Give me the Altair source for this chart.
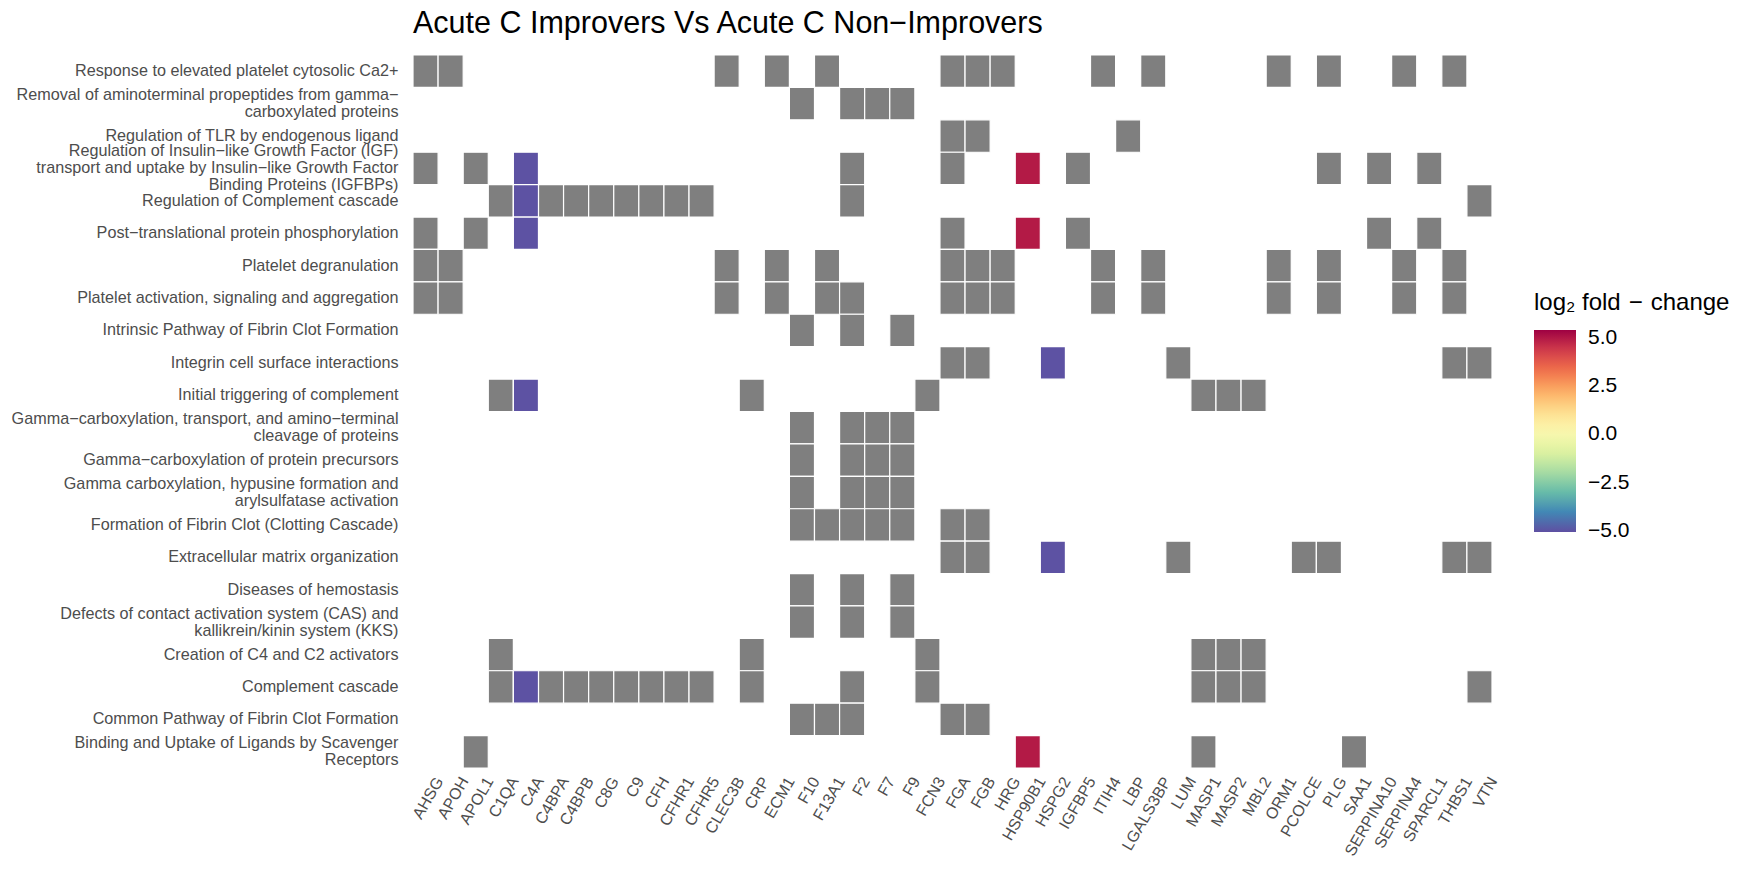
import altair as alt
import pandas as pd

genes = ["AHSG", "APOH", "APOL1", "C1QA", "C4A", "C4BPA", "C4BPB", "C8G", "C9", "CFH",
         "CFHR1", "CFHR5", "CLEC3B", "CRP", "ECM1", "F10", "F13A1", "F2", "F7", "F9",
         "FCN3", "FGA", "FGB", "HRG", "HSP90B1", "HSPG2", "IGFBP5", "ITIH4", "LBP",
         "LGALS3BP", "LUM", "MASP1", "MASP2", "MBL2", "ORM1", "PCOLCE", "PLG", "SAA1",
         "SERPINA10", "SERPINA4", "SPARCL1", "THBS1", "VTN"]

# top to bottom; "|" marks a line break in the label
pathways = [
    "Response to elevated platelet cytosolic Ca2+",
    "Removal of aminoterminal propeptides from gamma\u2212|carboxylated proteins",
    "Regulation of TLR by endogenous ligand",
    "Regulation of Insulin\u2212like Growth Factor (IGF)|transport and uptake by Insulin\u2212like Growth Factor|Binding Proteins (IGFBPs)",
    "Regulation of Complement cascade",
    "Post\u2212translational protein phosphorylation",
    "Platelet degranulation",
    "Platelet activation, signaling and aggregation",
    "Intrinsic Pathway of Fibrin Clot Formation",
    "Integrin cell surface interactions",
    "Initial triggering of complement",
    "Gamma\u2212carboxylation, transport, and amino\u2212terminal|cleavage of proteins",
    "Gamma\u2212carboxylation of protein precursors",
    "Gamma carboxylation, hypusine formation and|arylsulfatase activation",
    "Formation of Fibrin Clot (Clotting Cascade)",
    "Extracellular matrix organization",
    "Diseases of hemostasis",
    "Defects of contact activation system (CAS) and|kallikrein/kinin system (KKS)",
    "Creation of C4 and C2 activators",
    "Complement cascade",
    "Common Pathway of Fibrin Clot Formation",
    "Binding and Uptake of Ligands by Scavenger|Receptors",
]

platelet = ["AHSG", "APOH", "CLEC3B", "ECM1", "F13A1", "FGA", "FGB", "HRG", "ITIH4",
            "LGALS3BP", "ORM1", "PLG", "SERPINA4", "THBS1"]
complement_core = ["C1QA", "C4A", "C4BPA", "C4BPB", "C8G", "C9", "CFH", "CFHR1", "CFHR5"]
gamma = ["F10", "F2", "F7", "F9"]

members = [
    platelet,
    gamma,
    ["FGA", "FGB", "LBP"],
    ["AHSG", "APOL1", "C4A", "F2", "FGA", "HSP90B1", "IGFBP5", "PLG", "SERPINA10", "SPARCL1"],
    complement_core + ["F2", "VTN"],
    ["AHSG", "APOL1", "C4A", "FGA", "HSP90B1", "IGFBP5", "SERPINA10", "SPARCL1"],
    platelet,
    platelet + ["F2"],
    ["F10", "F2", "F9"],
    ["FGA", "FGB", "HSPG2", "LUM", "THBS1", "VTN"],
    ["C1QA", "C4A", "CRP", "FCN3", "MASP1", "MASP2", "MBL2"],
    gamma,
    gamma,
    gamma,
    ["F10", "F13A1", "F2", "F7", "F9", "FGA", "FGB"],
    ["FGA", "FGB", "HSPG2", "LUM", "PCOLCE", "PLG", "THBS1", "VTN"],
    ["F10", "F2", "F9"],
    ["F10", "F2", "F9"],
    ["C1QA", "CRP", "FCN3", "MASP1", "MASP2", "MBL2"],
    complement_core + ["CRP", "F2", "FCN3", "MASP1", "MASP2", "MBL2", "VTN"],
    ["F10", "F13A1", "F2", "FGA", "FGB"],
    ["APOL1", "HSP90B1", "MASP1", "SAA1"],
]

gene_lfc = {"C4A": -5.0, "HSPG2": -5.0, "HSP90B1": 4.97}

rows = []
for p, gs in zip(pathways, members):
    for g in gs:
        rows.append({"gene": g, "pathway": p, "lfc": gene_lfc.get(g)})
df = pd.DataFrame(rows)

FONT = "Liberation Sans"
LINE_H = 17

y_label_offset = {
    "condition": [
        {"test": "length(split(datum.value, '|')) == 3", "value": -LINE_H},
        {"test": "length(split(datum.value, '|')) == 2", "value": -LINE_H / 2},
    ],
    "value": 0,
}

x_enc = alt.X("gene:N",
              scale=alt.Scale(domain=genes, paddingInner=0, paddingOuter=0),
              axis=alt.Axis(title=None, labelAngle=-60, labelFontSize=16,
                            labelColor="#4D4D4D", labelFont=FONT, ticks=False,
                            domain=False, grid=False, labelPadding=10, labelOffset=14))
y_enc = alt.Y("pathway:N",
              scale=alt.Scale(domain=pathways, paddingInner=0, paddingOuter=0),
              axis=alt.Axis(title=None, labelExpr="split(datum.label, '|')",
                            labelLineHeight=LINE_H, labelFontSize=16.2, labelColor="#4D4D4D",
                            labelFont=FONT, labelLimit=1000, ticks=False, domain=False,
                            grid=False, labelPadding=15, labelOffset=y_label_offset))

base = alt.Chart(df).encode(x=x_enc, y=y_enc)

gray = base.mark_rect(color="#7F7F7F", stroke="white", strokeWidth=1.2)

colored = base.transform_filter("isValid(datum.lfc)").mark_rect(
    stroke="white", strokeWidth=1.2
).encode(
    color=alt.Color(
        "lfc:Q",
        scale=alt.Scale(scheme="spectral", reverse=True, domain=[-5.05, 5.41]),
        legend=alt.Legend(
            title="log\u2082 fold\u2004\u2212\u2004change", orient="none",
            legendX=1121, legendY=236,
            direction="vertical", gradientLength=202, gradientThickness=42,
            gradientStrokeWidth=0, values=[-5, -2.5, 0, 2.5, 5], format=".1f",
            labelFontSize=21, labelFont=FONT, labelColor="black", labelOffset=12,
            titleFontSize=24, titleFont=FONT, titleFontWeight="normal",
            titleColor="black", titlePadding=15, titleLimit=400,
        ),
    )
)

chart = alt.layer(gray, colored).properties(
    width=1079, height=713,
    title=alt.TitleParams("Acute C Improvers Vs Acute C Non\u2212Improvers", anchor="start",
                          frame="group", fontSize=30.5, fontWeight="normal", font=FONT,
                          color="black", offset=15),
    padding={"left": 405, "top": 47, "right": 250, "bottom": 95},
    autosize=alt.AutoSizeParams(type="none"),
    background="white",
).configure_view(stroke=None)

chart.save("out.html", embed_options={"renderer": "svg", "actions": False})
